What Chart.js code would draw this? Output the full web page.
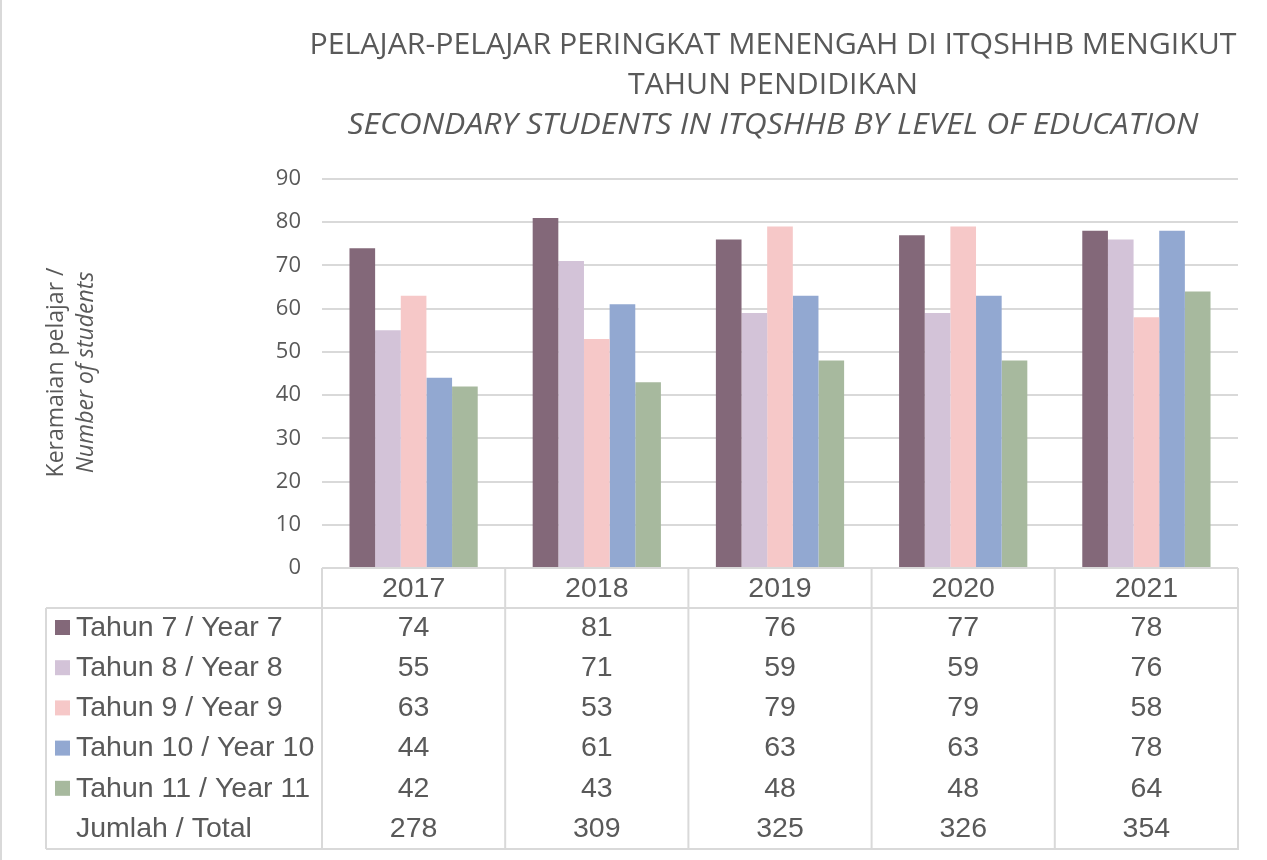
<!DOCTYPE html>
<html>
<head>
<meta charset="utf-8">
<script src="https://cdn.jsdelivr.net/npm/chart.js@4.4.1/dist/chart.umd.min.js"></script>
<style>
    html, body { margin: 0; padding: 0; background: #ffffff; }
    #wrap { width: 1267px; height: 860px; position: relative; }
</style>
</head>
<body>
<div id="wrap"><canvas id="studentsChart" width="1267" height="860"></canvas></div>
<script>
// data
const years = ["2017", "2018", "2019", "2020", "2021"];
const seriesNames = ["Tahun 7 / Year 7", "Tahun 8 / Year 8", "Tahun 9 / Year 9", "Tahun 10 / Year 10", "Tahun 11 / Year 11"];
const year7 = [74, 81, 76, 77, 78];
const year8 = [55, 71, 59, 59, 76];
const year9 = [63, 53, 79, 79, 58];
const year10 = [44, 61, 63, 63, 78];
const year11 = [42, 43, 48, 48, 64];
const totals = [278, 309, 325, 326, 354];
const totalLabel = "Jumlah / Total";
const yTicks = [0, 10, 20, 30, 40, 50, 60, 70, 80, 90];

const titleLines = ["PELAJAR-PELAJAR PERINGKAT MENENGAH DI ITQSHHB MENGIKUT", "TAHUN PENDIDIKAN"];
const titleItalic = "SECONDARY STUDENTS IN ITQSHHB BY LEVEL OF EDUCATION";
const yTitle = ["Keramaian pelajar /", "Number of students"];

const colours = ["#836879", "#D3C3D8", "#F6C8C8", "#92A8D1", "#A7B99E"];
const textGrey = "#595959";
const lineGrey = "#D9D9D9";

const allSeries = [year7, year8, year9, year10, year11];

// title, y axis title and the data table are drawn by hand
const extrasPlugin = {
    id: "extras",
    afterDraw(chart) {
        const ctx = chart.ctx;
        const area = chart.chartArea;
        const xScale = chart.scales.x;
        ctx.save();

        // outer frame line on the left
        ctx.strokeStyle = lineGrey;
        ctx.lineWidth = 2;
        ctx.beginPath();
        ctx.moveTo(1, 0);
        ctx.lineTo(1, 860);
        ctx.stroke();

        // title, squeezed to match the narrow original face
        ctx.fillStyle = textGrey;
        ctx.textAlign = "center";
        ctx.textBaseline = "middle";
        const titleX = 773;
        const titleFont = "30px 'Open Sans'";
        const italicFont = "italic 30px 'Open Sans'";
        ctx.font = titleFont;
        const squeeze = 927 / ctx.measureText(titleLines[0]).width;
        ctx.font = italicFont;
        const squeezeItalic = 851 / ctx.measureText(titleItalic).width;
        const drawSqueezed = (text, y, font, sx) => {
            ctx.save();
            ctx.font = font;
            ctx.translate(titleX, y);
            ctx.scale(sx, 1);
            ctx.fillText(text, 0, 0);
            ctx.restore();
        };
        drawSqueezed(titleLines[0], 45, titleFont, squeeze);
        drawSqueezed(titleLines[1], 85, titleFont, squeeze);
        drawSqueezed(titleItalic, 125, italicFont, squeezeItalic);

        // y axis title, two rotated lines
        const midY = (area.top + area.bottom) / 2 - 1;
        ctx.save();
        ctx.translate(56, midY);
        ctx.rotate(-Math.PI / 2);
        ctx.font = "23px 'Open Sans'";
        ctx.fillText(yTitle[0], 0, 0);
        ctx.font = "italic 23px 'Open Sans'";
        ctx.fillText(yTitle[1], 0, 30);
        ctx.restore();

        // data table under the plot
        const top = area.bottom;
        const headerBottom = top + 40;
        const rowPitch = 40.2;
        const firstRow = top + 60;
        const bottom = top + 281;
        const tableLeft = 46;
        const edges = [area.left];
        for (let i = 1; i < years.length; i++) {
            edges.push((xScale.getPixelForValue(i - 1) + xScale.getPixelForValue(i)) / 2);
        }
        edges.push(area.right);

        ctx.strokeStyle = lineGrey;
        ctx.lineWidth = 2;
        ctx.beginPath();
        edges.forEach(x => {
            ctx.moveTo(x, top);
            ctx.lineTo(x, bottom);
        });
        ctx.moveTo(tableLeft, headerBottom);
        ctx.lineTo(tableLeft, bottom);
        ctx.moveTo(tableLeft, headerBottom);
        ctx.lineTo(area.right, headerBottom);
        ctx.moveTo(tableLeft, bottom);
        ctx.lineTo(area.right + 1, bottom);
        ctx.stroke();

        ctx.fillStyle = textGrey;
        ctx.font = "28.5px 'Liberation Sans'";
        ctx.textAlign = "center";
        years.forEach((year, i) => {
            ctx.fillText(year, xScale.getPixelForValue(i), top + 21);
        });

        allSeries.forEach((values, r) => {
            const y = firstRow + r * rowPitch;
            ctx.fillStyle = colours[r];
            ctx.fillRect(55, y - 8, 15, 15);
            ctx.fillStyle = textGrey;
            ctx.textAlign = "left";
            ctx.fillText(seriesNames[r], 76, y);
            ctx.textAlign = "center";
            values.forEach((v, i) => ctx.fillText(String(v), xScale.getPixelForValue(i), y));
        });
        const totalY = firstRow + allSeries.length * rowPitch;
        ctx.textAlign = "left";
        ctx.fillText(totalLabel, 76, totalY);
        ctx.textAlign = "center";
        totals.forEach((v, i) => ctx.fillText(String(v), xScale.getPixelForValue(i), totalY));

        ctx.restore();
    }
};

const chartCtx = document.getElementById("studentsChart").getContext("2d");
new Chart(chartCtx, {
    type: "bar",
    data: {
        labels: years,
        datasets: seriesNames.map((name, i) => ({
            label: name,
            data: allSeries[i],
            backgroundColor: colours[i],
            borderWidth: 0,
            categoryPercentage: 0.7,
            barPercentage: 1.0,
        })),
    },
    options: {
        responsive: false,
        animation: false,
        layout: {
            padding: { left: 0, right: 29, top: 179, bottom: 292 },
        },
        plugins: {
            legend: { display: false },
            title: { display: false },
            tooltip: { enabled: false },
        },
        scales: {
            x: {
                display: false,
            },
            y: {
                min: 0,
                max: 90,
                afterBuildTicks: axis => {
                    axis.ticks = yTicks.map(v => ({ value: v }));
                },
                afterFit: axis => {
                    axis.width = 322;
                },
                border: { display: false },
                grid: {
                    color: lineGrey,
                    lineWidth: 2,
                    drawTicks: false,
                },
                ticks: {
                    color: textGrey,
                    padding: 21,
                    font: { family: "'Open Sans'", size: 22 },
                },
            },
        },
    },
    plugins: [extrasPlugin],
});
</script>
</body>
</html>
